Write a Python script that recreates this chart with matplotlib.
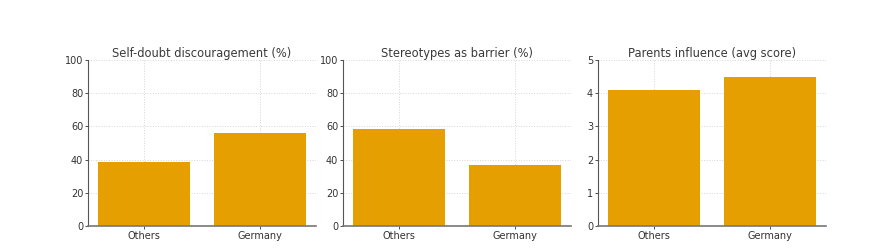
import matplotlib.pyplot as plt

categories = ["Others", "Germany"]
titles = ["Self-doubt discouragement (%)", "Stereotypes as barrier (%)", "Parents influence (avg score)"]
self_doubt = [38.7, 56.3]
stereotypes = [58.4, 36.5]
parents = [4.1, 4.5]
ylims = [100, 100, 5]

plt.rcParams['font.family'] = 'DejaVu Sans'

fig = plt.figure(figsize=(8.72, 2.48), dpi=100)
lefts = [88 / 872, 343 / 872, 598 / 872]
for left, title, vals, ymax in zip(lefts, titles, [self_doubt, stereotypes, parents], ylims):
    ax = fig.add_axes([left, 22 / 248, 228 / 872, 166 / 248])
    ax.bar(categories, vals, color="#E69F00", width=0.8, zorder=2)
    ax.set_ylim(0, ymax)
    ax.set_title(title, fontsize=8.3, color="#3a3a3a", pad=2.5)
    ax.grid(True, linestyle=":", color="#d5d5d5", linewidth=0.7, zorder=0)
    ax.spines['top'].set_visible(False)
    ax.spines['right'].set_visible(False)
    ax.spines['left'].set_color("#555555")
    ax.spines['bottom'].set_color("#777777")
    ax.spines['bottom'].set_linewidth(1.2)
    ax.tick_params(labelsize=7, colors="#333333", length=2, width=0.6, pad=1.5)

fig.savefig("out.png", dpi=100)
